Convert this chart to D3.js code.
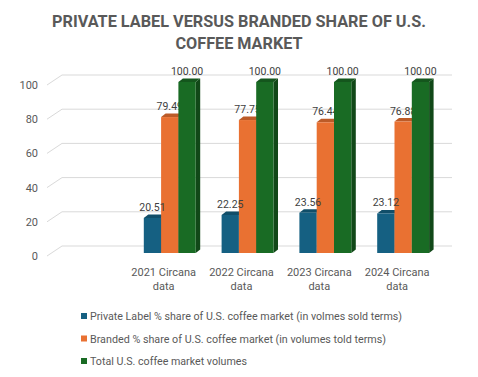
<!DOCTYPE html>
<html>
<head>
<meta charset="utf-8">
<script src="https://cdn.jsdelivr.net/npm/d3@7"></script>
<style>
  html, body { margin: 0; padding: 0; background: #fff; }
  svg { display: block; }
</style>
</head>
<body>
<svg id="chart" width="478" height="377"></svg>
<script>
const categories = [['2021 Circana', 'data'], ['2022 Circana', 'data'], ['2023 Circana', 'data'], ['2024 Circana', 'data']];
const seriesNames = [
  'Private Label % share of U.S. coffee market (in volmes sold terms)',
  'Branded % share of U.S. coffee market (in volumes told terms)',
  'Total U.S. coffee market volumes'
];
const privateLabel = [20.51, 22.25, 23.56, 23.12];
const branded = [79.49, 77.75, 76.44, 76.88];
const total = [100, 100, 100, 100];
const yTicks = [0, 20, 40, 60, 80, 100];
const titleLines = ['PRIVATE LABEL VERSUS BRANDED SHARE OF U.S.', 'COFFEE MARKET'];

const colors = ['#156082', '#E97132', '#196B24'];
const textColor = '#595959';
const gridColor = '#d9d9d9';
const font = 'Roboto, "Liberation Sans", sans-serif';

const svg = d3.select('#chart');

// 标题
const titleWidths = [374, 127];
svg.append('g').selectAll('text').data(titleLines).enter()
  .append('text')
  .attr('x', 239)
  .attr('y', (d, i) => 27 + i * 22)
  .attr('text-anchor', 'middle')
  .attr('font-family', font)
  .attr('font-weight', 'bold')
  .attr('font-size', 17)
  .attr('fill', textColor)
  .attr('textLength', (d, i) => titleWidths[i])
  .attr('lengthAdjust', 'spacingAndGlyphs')
  .text(d => d);

// 坐标 (front plane, with oblique depth)
const depthX = 15, depthY = -10;
const keys = [''].concat(categories.map(c => c.join(' ')));
const x = d3.scaleBand().domain(keys).range([47, 436]);
const y = d3.scaleLinear().domain([0, 100]).range([256, 85]);

// grid lines
const grid = svg.append('g');
grid.selectAll('path').data(yTicks).enter()
  .append('path')
  .attr('d', d => `M${x.range()[0]},${y(d)} L${x.range()[0] + depthX},${y(d) + depthY} H${x.range()[1] + depthX + 1}`)
  .attr('fill', 'none')
  .attr('stroke', gridColor)
  .attr('stroke-width', 1);

// y labels
svg.append('g').selectAll('text').data(yTicks).enter()
  .append('text')
  .attr('x', 38)
  .attr('y', d => y(d) + 4)
  .attr('text-anchor', 'end')
  .attr('font-family', font)
  .attr('font-size', 11)
  .attr('fill', textColor)
  .text(d => d);

// x labels
const xl = svg.append('g').selectAll('text').data(categories).enter()
  .append('text')
  .attr('x', d => x(d.join(' ')) + x.bandwidth() / 2)
  .attr('y', 276)
  .attr('text-anchor', 'middle')
  .attr('font-family', font)
  .attr('font-size', 11)
  .attr('fill', textColor);
xl.selectAll('tspan').data(d => d).enter()
  .append('tspan')
  .attr('x', function () { return d3.select(this.parentNode).attr('x'); })
  .attr('dy', (d, i) => i === 0 ? 0 : 14)
  .text(d => d);

// 柱子
const series = [privateLabel, branded, total];
const barW = 17.3;
const barOffX = 19, barOffY = -3;
const bdx = 4.5, bdy = -3.5;
const fmt = d3.format('.2f');

function drawBar(g, ci, si) {
  const v = series[si][ci];
  const col = d3.color(colors[si]);
  const l = x(categories[ci].join(' ')) + barOffX + si * barW;
  const r = l + barW;
  const top = y(v) + barOffY;
  const bot = y(0) + barOffY;
  // side
  g.append('path')
    .attr('d', `M${r},${top} L${r + bdx},${top + bdy} V${bot + bdy} L${r},${bot} Z`)
    .attr('fill', col.darker(1.1));
  // top
  g.append('path')
    .attr('d', `M${l},${top} L${l + bdx},${top + bdy} H${r + bdx} L${r},${top} Z`)
    .attr('fill', col.darker(0.6));
  // front
  g.append('rect')
    .attr('x', l)
    .attr('y', top)
    .attr('width', barW)
    .attr('height', bot - top)
    .attr('fill', col);
}

function drawLabel(g, ci, si) {
  const v = series[si][ci];
  const l = x(categories[ci].join(' ')) + barOffX + si * barW;
  g.append('text')
    .attr('x', l + barW / 2)
    .attr('y', y(v) + barOffY - 7)
    .attr('text-anchor', 'middle')
    .attr('font-family', font)
    .attr('font-size', 10.5)
    .attr('fill', '#404040')
    .text(fmt(v));
}

// order: blue + orange bars, their labels, then green bar (covers orange label end), green label
categories.forEach((c, ci) => {
  const g = svg.append('g');
  drawBar(g, ci, 0);
  drawBar(g, ci, 1);
  drawLabel(g, ci, 0);
  drawLabel(g, ci, 1);
  drawBar(g, ci, 2);
});
categories.forEach((c, ci) => {
  drawLabel(svg, ci, 2);
});

// legend
const legend = svg.append('g').selectAll('g').data(seriesNames).enter()
  .append('g')
  .attr('transform', (d, i) => `translate(81, ${316 + i * 22.5})`);
legend.append('rect')
  .attr('x', 0)
  .attr('y', -3)
  .attr('width', 6)
  .attr('height', 6)
  .attr('fill', (d, i) => colors[i]);
const legendWidths = [312, 296, 157];
legend.append('text')
  .attr('x', 9)
  .attr('y', 4)
  .attr('font-family', font)
  .attr('font-size', 11)
  .attr('fill', textColor)
  .attr('textLength', (d, i) => legendWidths[i])
  .attr('lengthAdjust', 'spacingAndGlyphs')
  .text(d => d);
</script>
</body>
</html>
